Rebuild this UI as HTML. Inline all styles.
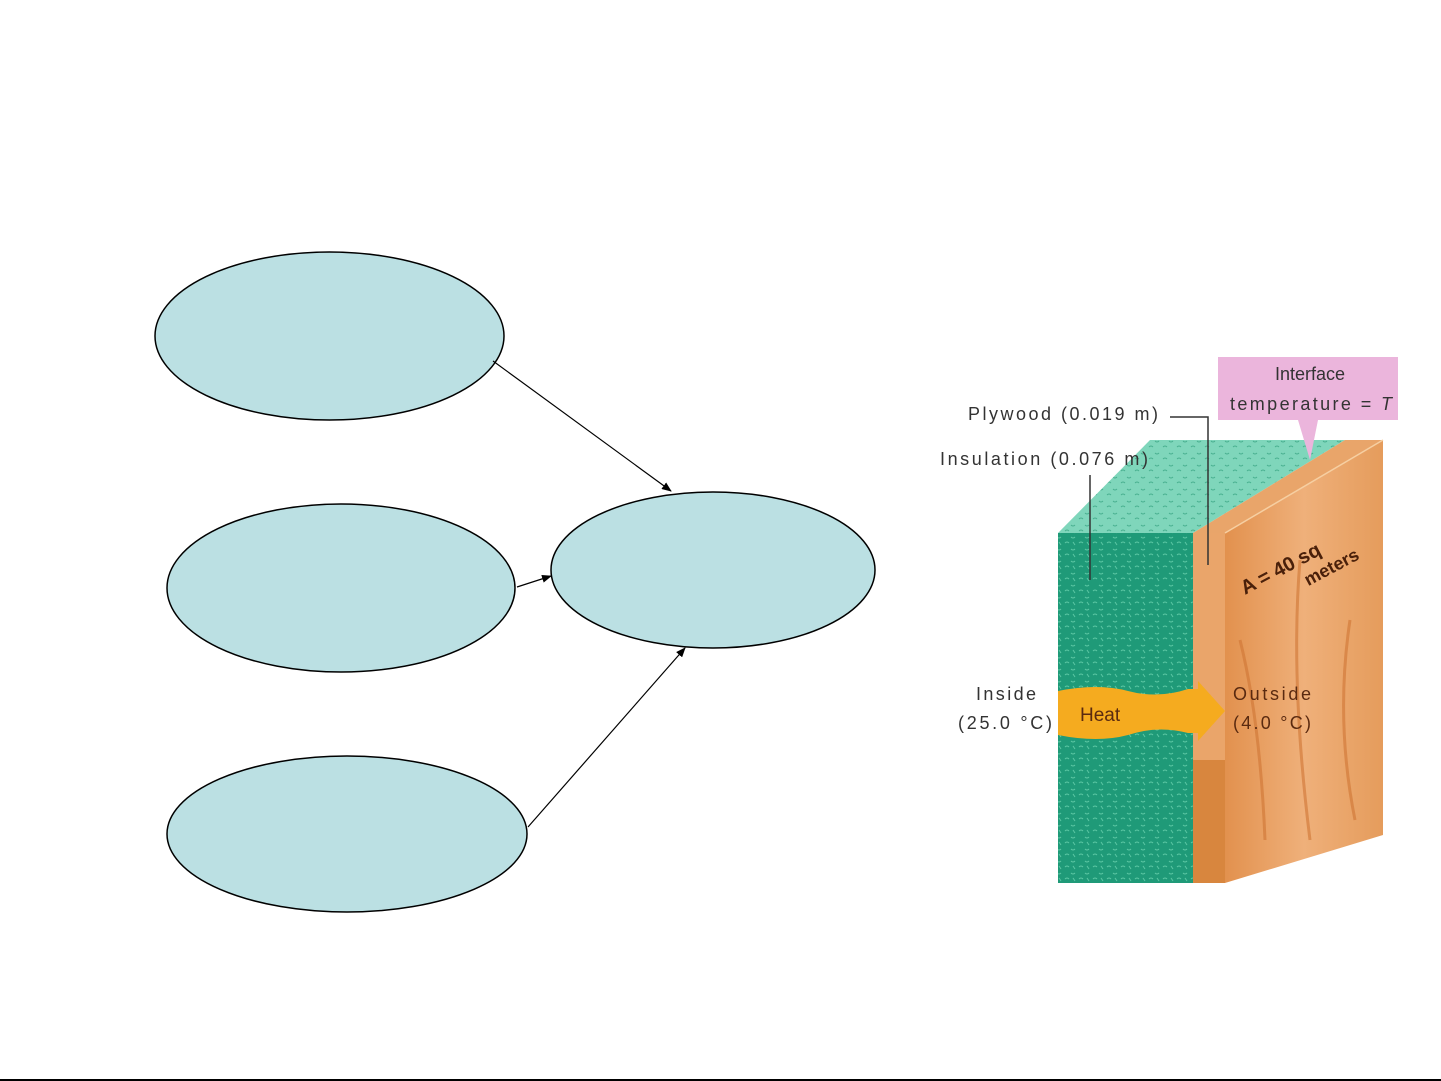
<!DOCTYPE html>
<html><head><meta charset="utf-8"><style>
html,body{margin:0;padding:0;background:#fff;}
svg{display:block;}
</style></head><body>
<svg width="1441" height="1081" viewBox="0 0 1441 1081" xmlns="http://www.w3.org/2000/svg" font-family="Liberation Sans, sans-serif">
<defs>
<marker id="ah" markerWidth="10" markerHeight="8" refX="9" refY="4" orient="auto" markerUnits="userSpaceOnUse">
<path d="M0,0 L10,4 L0,8 Z" fill="#000"/>
</marker>
<pattern id="ins" width="14" height="12" patternUnits="userSpaceOnUse">
<rect width="14" height="12" fill="#1f9a78"/>
<path d="M1,3 q2,-2 4,0 M7,9 q2,2 4,0 M9,2 l2,3" stroke="#5cc7a4" stroke-width="1" fill="none"/>
</pattern>
<pattern id="instop" width="14" height="12" patternUnits="userSpaceOnUse">
<rect width="14" height="12" fill="#7fd6bb"/>
<path d="M1,3 q2,-2 4,0 M7,9 q2,2 4,0" stroke="#49b090" stroke-width="1" fill="none"/>
</pattern>
<linearGradient id="wood" x1="0" y1="0" x2="1" y2="0">
<stop offset="0" stop-color="#e2914e"/><stop offset="0.5" stop-color="#efb07a"/><stop offset="1" stop-color="#e59c5c"/>
</linearGradient>
</defs>

<ellipse cx="329.5" cy="336" rx="174.5" ry="84" fill="#bbe0e3" stroke="#000" stroke-width="1.5"/>
<ellipse cx="341" cy="588" rx="174" ry="84" fill="#bbe0e3" stroke="#000" stroke-width="1.5"/>
<ellipse cx="347" cy="834" rx="180" ry="78" fill="#bbe0e3" stroke="#000" stroke-width="1.5"/>
<ellipse cx="713" cy="570" rx="162" ry="78" fill="#bbe0e3" stroke="#000" stroke-width="1.5"/>

<line x1="493" y1="361" x2="671" y2="491" stroke="#000" stroke-width="1.2" marker-end="url(#ah)"/>
<line x1="517" y1="587" x2="551" y2="576" stroke="#000" stroke-width="1.2" marker-end="url(#ah)"/>
<line x1="528" y1="827" x2="685" y2="648" stroke="#000" stroke-width="1.2" marker-end="url(#ah)"/>

<polygon points="1058,533 1193,533 1345,440 1150,440" fill="url(#instop)"/>
<polygon points="1193,533 1225,533 1383,440 1345,440" fill="#e9a56a"/>
<rect x="1058" y="533" width="135" height="350" fill="url(#ins)"/>
<polygon points="1225,533 1383,440 1383,835 1225,883" fill="url(#wood)"/>
<rect x="1193" y="533" width="32" height="350" fill="#eaa56a"/>
<rect x="1193" y="760" width="32" height="123" fill="#d8863e"/>
<path d="M1240,640 q20,80 25,200 M1300,560 q-10,120 10,280 M1350,620 q-15,100 5,200" stroke="#cf7434" stroke-width="3" fill="none" opacity="0.6"/>
<line x1="1225" y1="533" x2="1383" y2="440" stroke="#f6cfa2" stroke-width="1.5"/>

<path d="M1058,691 q40,-8 70,0 q30,8 60,-2 l10,0 l0,-8 l27,30 l-27,30 l0,-8 l-10,0 q-30,-8 -60,2 q-30,8 -70,0 Z" fill="#f5ab1f"/>
<text x="1080" y="721" font-size="19" fill="#5a2a10">Heat</text>

<rect x="1218" y="357" width="180" height="63" fill="#ebb5dc"/>
<polygon points="1298,420 1318,420 1310,460" fill="#ebb5dc"/>
<text x="1310" y="380" font-size="18" text-anchor="middle" fill="#333">Interface</text>
<text x="1230" y="410" font-size="18" fill="#333" textLength="162">temperature = <tspan font-style="italic">T</tspan></text>

<text x="968" y="420" font-size="18" fill="#333" textLength="190" lengthAdjust="spacing">Plywood (0.019 m)</text>
<text x="940" y="465" font-size="18" fill="#333" textLength="208" lengthAdjust="spacing">Insulation (0.076 m)</text>
<polyline points="1170,417 1208,417 1208,565" stroke="#333" stroke-width="1.5" fill="none"/>
<line x1="1090" y1="475" x2="1090" y2="580" stroke="#333" stroke-width="1.5"/>

<text x="976" y="700" font-size="18" fill="#333" textLength="60">Inside</text>
<text x="958" y="729" font-size="18" fill="#333" textLength="94">(25.0 °C)</text>
<text x="1233" y="700" font-size="18" fill="#5a2a10" textLength="78">Outside</text>
<text x="1233" y="729" font-size="18" fill="#5a2a10" textLength="78">(4.0 °C)</text>

<g transform="translate(1245,595) rotate(-28)" font-size="20" font-weight="bold" fill="#4a200a">
<text x="0" y="0">A = 40 sq</text>
<text x="60" y="22" font-size="18">meters</text>
</g>

<line x1="0" y1="1080" x2="1441" y2="1080" stroke="#000" stroke-width="2"/>
</svg>
</body></html>
